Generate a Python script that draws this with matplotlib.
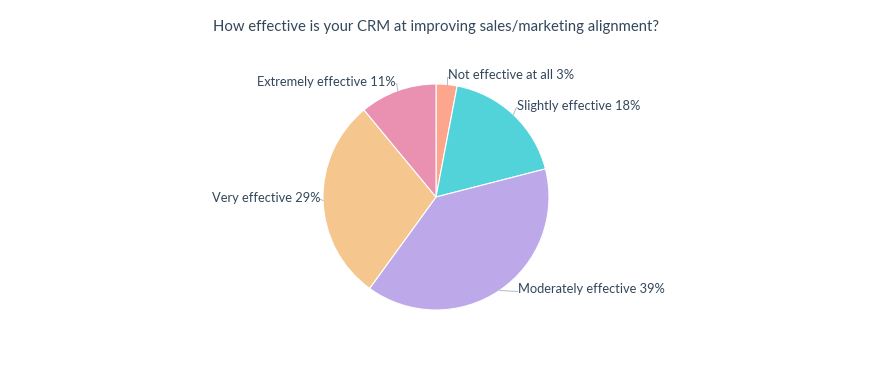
import matplotlib.pyplot as plt
import numpy as np

categories = ["Not effective at all", "Slightly effective", "Moderately effective",
              "Very effective", "Extremely effective"]
shares = [3, 18, 39, 29, 11]
colors = ["#fea58e", "#51d3d9", "#bda9ea", "#f5c78e", "#ea90b1"]

# label offsets from the wedge edge, in pixels (x right, y up)
label_offsets = [(1, 9.5), (4, 9), (18, 1), (-3, 3), (-2, 9)]

text_color = "#33475b"
plt.rcParams["font.family"] = ["Lato", "DejaVu Sans"]

fig = plt.figure(figsize=(8.72, 3.78), dpi=100)
ax = fig.add_axes([0, 0, 1, 1])

cx, cy, r = 436, 181, 113
wedges, _ = ax.pie(shares, colors=colors, startangle=90, counterclock=False,
                   center=(cx, cy), radius=r, frame=True,
                   wedgeprops=dict(edgecolor="white", linewidth=0.8))
ax.set_xlim(0, 872)
ax.set_ylim(0, 378)
ax.set_aspect("equal")
ax.axis("off")

for w, cat, s, (dx, dy) in zip(wedges, categories, shares, label_offsets):
    ang = np.deg2rad((w.theta1 + w.theta2) / 2)
    x0, y0 = cx + r * np.cos(ang), cy + r * np.sin(ang)
    left = dx >= 0
    xt, yt = x0 + dx, y0 + dy
    ax.plot([x0, xt - (1 if left else -1), xt], [y0, yt - 2, yt - 2],
            color="#b0bcc8", lw=0.7)
    ax.text(xt, yt, f"{cat} {s}%", ha="left" if left else "right", va="center",
            fontsize=9.3, color=text_color)

fig.text(0.5, 1 - 27 / 378, "How effective is your CRM at improving sales/marketing alignment?",
         ha="center", va="center", fontsize=10.7, color=text_color)

fig.savefig("out.png", dpi=100)
